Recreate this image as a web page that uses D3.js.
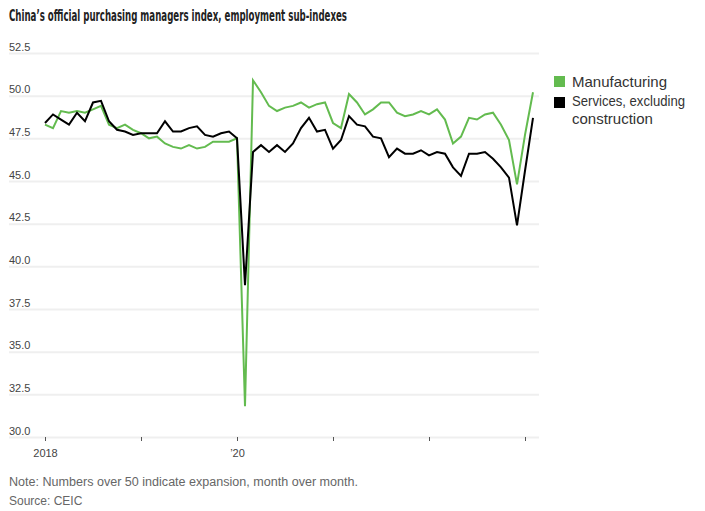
<!DOCTYPE html>
<html>
<head>
<meta charset="utf-8">
<script src="https://cdn.jsdelivr.net/npm/d3@7"></script>
<style>
  html, body { margin: 0; padding: 0; background: #fff; }
  svg { display: block; }
</style>
</head>
<body>
<svg id="chart" width="705" height="511"></svg>
<script>
// ---- data (monthly, Jan 2018 – Feb 2023) ----
const startYear = 2018;
const manufacturing = [
  48.3, 48.1, 49.1, 49.0, 49.1, 49.0, 49.2, 49.4, 48.3, 48.1, 48.3, 48.0,
  47.8, 47.5, 47.6, 47.2, 47.0, 46.9, 47.1, 46.9, 47.0, 47.3, 47.3, 47.3,
  47.5, 31.8, 50.9, 50.2, 49.4, 49.1, 49.3, 49.4, 49.6, 49.3, 49.5, 49.6,
  48.4, 48.1, 50.1, 49.6, 48.9, 49.2, 49.6, 49.6, 49.0, 48.8, 48.9, 49.1,
  48.9, 49.2, 48.6, 47.2, 47.6, 48.7, 48.6, 48.9, 49.0, 48.3, 47.4, 44.8,
  47.7, 50.2
];
const services = [
  48.4, 48.9, 48.6, 48.3, 49.0, 48.5, 49.6, 49.7, 48.5, 48.0, 47.9, 47.7,
  47.8, 47.8, 47.8, 48.5, 47.9, 47.9, 48.1, 48.2, 47.7, 47.6, 47.8, 47.9,
  47.5, 38.9, 46.7, 47.1, 46.7, 47.1, 46.7, 47.2, 48.1, 48.7, 47.9, 48.0,
  46.9, 47.4, 48.8, 48.3, 48.2, 47.6, 47.5, 46.4, 46.9, 46.6, 46.6, 46.8,
  46.5, 46.7, 46.6, 45.8, 45.3, 46.6, 46.6, 46.7, 46.3, 45.8, 45.2, 42.4,
  45.6, 48.7
];
const yTicks = [30.0, 32.5, 35.0, 37.5, 40.0, 42.5, 45.0, 47.5, 50.0, 52.5];
const xTickMonths = [0, 12, 24, 36, 48, 60];
const xTickLabels = ["2018", "", "\u201920", "", "", ""];
const seriesNames = ["Manufacturing", "Services, excluding", "construction"];
const colors = { manufacturing: "#63bb4f", services: "#000000" };

const titleText = "China\u2019s official purchasing managers index, employment sub-indexes";
const noteText = "Note: Numbers over 50 indicate expansion, month over month.";
const sourceText = "Source: CEIC";

// ---- layout ----
const svg = d3.select("#chart");
const font = "'Liberation Sans', Arial, sans-serif";

const x = d3.scaleLinear().domain([0, 60]).range([45, 525]);
const y = d3.scaleLinear().domain([30, 52.5]).range([437, 53]);

// title
svg.append("text")
  .attr("x", 9).attr("y", 21)
  .attr("font-family", "'Liberation Sans Narrow', 'DejaVu Sans Condensed', sans-serif")
  .attr("font-weight", "bold")
  .attr("font-size", 15)
  .attr("fill", "#222")
  .attr("textLength", 338)
  .attr("lengthAdjust", "spacingAndGlyphs")
  .text(titleText);

// y axis / gridlines
const yAxis = d3.axisRight(y).tickValues(yTicks).tickSize(530).tickFormat(d3.format(".1f"));
const gy = svg.append("g").attr("transform", "translate(9,0)").call(yAxis);
gy.select(".domain").remove();
gy.selectAll(".tick line").attr("stroke", "#efefef").attr("stroke-width", 2);
gy.selectAll(".tick text")
  .attr("x", 0).attr("y", -3).attr("dy", 0)
  .attr("text-anchor", "start")
  .attr("font-family", font).attr("font-size", 11).attr("fill", "#444");

// x axis
const xAxis = d3.axisBottom(x).tickValues(xTickMonths).tickSize(4)
  .tickFormat((d, i) => xTickLabels[i]);
const gx = svg.append("g").attr("transform", "translate(0,437)").call(xAxis);
gx.select(".domain").remove();
gx.selectAll(".tick line").attr("stroke", "#555").attr("stroke-width", 1);
gx.selectAll(".tick text")
  .attr("y", 19.5).attr("dy", 0)
  .attr("font-family", font).attr("font-size", 11).attr("fill", "#444");

// lines
const line = d3.line().x((d, i) => x(i)).y(d => y(d));
svg.append("path").datum(manufacturing)
  .attr("d", line).attr("fill", "none")
  .attr("stroke", colors.manufacturing).attr("stroke-width", 2);
svg.append("path").datum(services)
  .attr("d", line).attr("fill", "none")
  .attr("stroke", colors.services).attr("stroke-width", 2);

// legend
const lg = svg.append("g").attr("font-family", font).attr("font-size", 15).attr("fill", "#333");
lg.append("rect").attr("x", 554).attr("y", 76).attr("width", 11).attr("height", 11).attr("fill", colors.manufacturing);
lg.append("text").attr("x", 572).attr("y", 87).text(seriesNames[0]);
lg.append("rect").attr("x", 554).attr("y", 97).attr("width", 11).attr("height", 11).attr("fill", colors.services);
lg.append("text").attr("x", 572).attr("y", 106)
  .attr("textLength", 113).attr("lengthAdjust", "spacingAndGlyphs").text(seriesNames[1]);
lg.append("text").attr("x", 572).attr("y", 124).text(seriesNames[2]);

// notes
svg.append("text").attr("x", 9).attr("y", 486)
  .attr("font-family", font).attr("font-size", 12).attr("fill", "#666")
  .attr("textLength", 349).attr("lengthAdjust", "spacingAndGlyphs")
  .text(noteText);
svg.append("text").attr("x", 9).attr("y", 505)
  .attr("font-family", font).attr("font-size", 12).attr("fill", "#666")
  .text(sourceText);
</script>
</body>
</html>
